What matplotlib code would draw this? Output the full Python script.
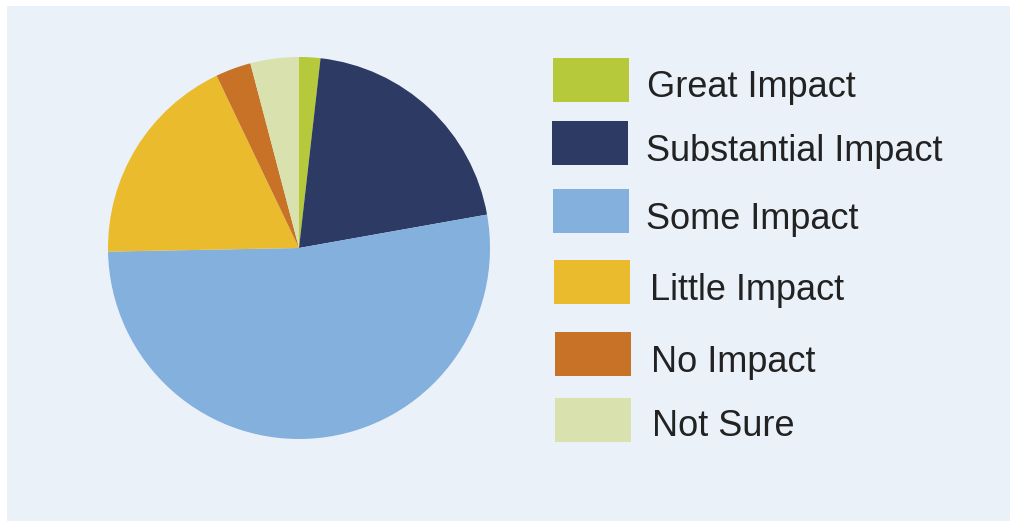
import matplotlib.pyplot as plt
from matplotlib.patches import Rectangle

labels = ['Great Impact', 'Substantial Impact', 'Some Impact',
          'Little Impact', 'No Impact', 'Not Sure']
shares = [1.8, 20.4, 52.5, 18.2, 3.0, 4.1]
colors = ['#b5c93b', '#2d3a63', '#84b0dd', '#ebbb2e', '#c77226', '#d9e2ae']

W, H = 1010, 521
fig = plt.figure(figsize=(W / 100, H / 100), dpi=100)
fig.patch.set_facecolor('white')

# light panel behind everything
fig.patches.append(Rectangle((7 / W, 0), 1 - 7 / W, 1 - 6 / H,
                             transform=fig.transFigure, facecolor='#eaf1f9',
                             edgecolor='none', zorder=0))

cx, cy, r = 299, 248, 191
ax = fig.add_axes([(cx - r) / W, (H - cy - r) / H, 2 * r / W, 2 * r / H])
ax.set_zorder(3)
ax.pie(shares, colors=colors, startangle=90, counterclock=False,
       radius=1, wedgeprops=dict(linewidth=0))
ax.set_xlim(-1, 1)
ax.set_ylim(-1, 1)
ax.set_aspect('equal')
ax.axis('off')

# legend boxes, placed by hand like the original
box_x = [553, 552, 553, 554, 555, 555]
box_y = [58, 121, 189, 260, 332, 398]
text_x = [647, 646, 646, 650, 651, 652]
base_y = [97, 161, 229, 300, 372, 436]
for i, lab in enumerate(labels):
    fig.patches.append(Rectangle((box_x[i] / W, 1 - (box_y[i] + 44) / H),
                                 76 / W, 44 / H, transform=fig.transFigure,
                                 facecolor=colors[i], edgecolor='none',
                                 zorder=1))
    fig.text(text_x[i] / W, 1 - base_y[i] / H, lab,
             fontsize=26, family='Liberation Sans', color='#222222',
             va='baseline', ha='left', zorder=2)

plt.savefig('out.png', dpi=100)
